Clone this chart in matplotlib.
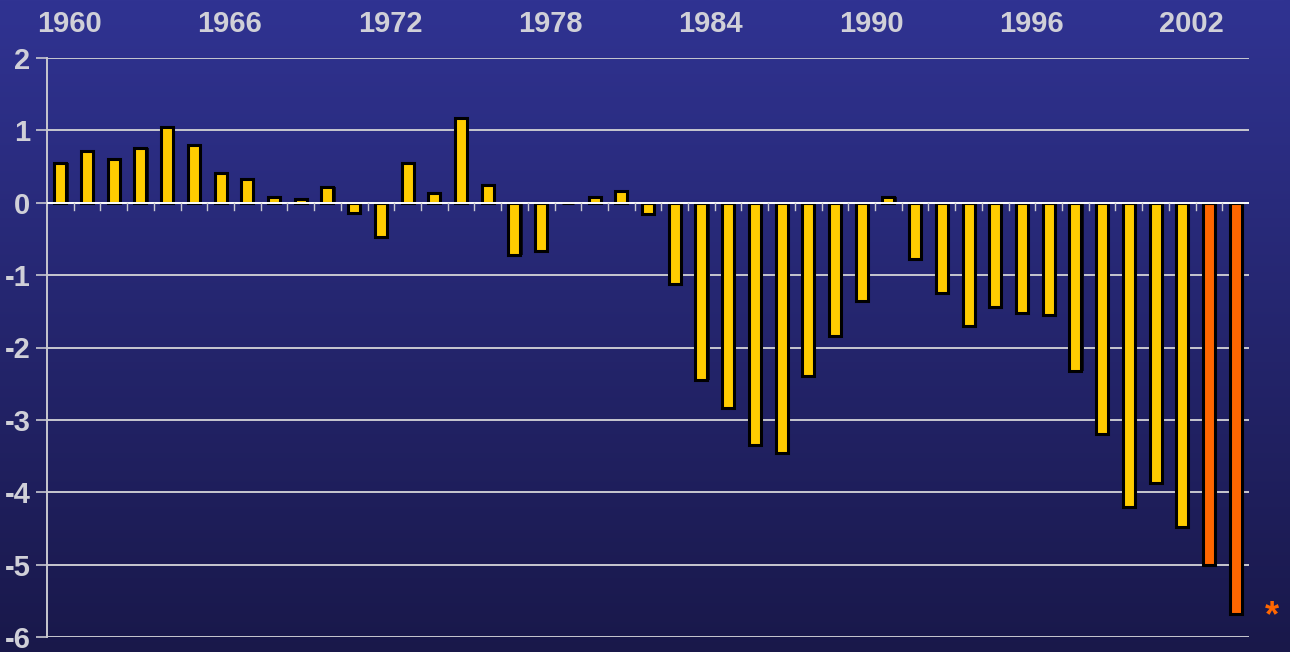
import numpy as np
import matplotlib
matplotlib.use('Agg')
import matplotlib.pyplot as plt

years = list(range(1960, 2005))
values = [0.55, 0.72, 0.61, 0.75, 1.05, 0.80, 0.41, 0.33, 0.08, 0.05,
          0.22, -0.14, -0.47, 0.55, 0.14, 1.17, 0.25, -0.72, -0.66, 0.0,
          0.08, 0.16, -0.16, -1.12, -2.45, -2.84, -3.35, -3.46, -2.39, -1.84,
          -1.36, 0.08, -0.78, -1.25, -1.70, -1.44, -1.53, -1.55, -2.33, -3.20,
          -4.21, -3.87, -4.48, -5.00, -5.68]
estimated = [2003, 2004]
label_years = [1960, 1966, 1972, 1978, 1984, 1990, 1996, 2002]

plt.rcParams['font.family'] = ['Liberation Sans', 'DejaVu Sans']
txt = '#d0d0d8'
grid = '#c8c8d0'

fig = plt.figure(figsize=(12.9, 6.52), dpi=100)

# gradient background
bg = fig.add_axes([0, 0, 1, 1], zorder=-10)
top = np.array([48, 51, 146]) / 255
bot = np.array([25, 24, 74]) / 255
t = np.linspace(0, 1, 256)[:, None]
grad = top[None, :] * (1 - t) + bot[None, :] * t
bg.imshow(grad[:, None, :], aspect='auto', extent=[0, 1, 0, 1])
bg.axis('off')

ax = fig.add_axes([47 / 1290, 1 - 637 / 652, 1202 / 1290, 579 / 652])
ax.patch.set_alpha(0)

x = np.arange(len(years))
colors = ['#ff6600' if y in estimated else '#ffcc00' for y in years]
# shadow
ax.bar(x + 0.08, values, width=0.45, color='#0a0a20', edgecolor='none',
       zorder=2)
ax.bar(x, values, width=0.45, color=colors, edgecolor='black', linewidth=2.2,
       zorder=3)

ax.set_xlim(-0.5, len(years) - 0.5)
ax.set_ylim(-6, 2)
ax.set_yticks(range(-6, 3))
ax.set_yticklabels([str(v) for v in range(-6, 3)], fontsize=21,
                   fontweight='bold', color=txt)
ax.tick_params(axis='y', length=8, color=grid, width=1.2, pad=4)
ax.set_xticks([])
for v in range(-6, 3):
    if v != 0:
        ax.axhline(v, color=grid, linewidth=1.4, zorder=1)
ax.axhline(0, color='white', linewidth=1.4, zorder=4)

# small ticks on the zero line at category boundaries
for b in np.arange(0.5, len(years) - 0.5, 1.0):
    ax.plot([b, b], [0, -0.1], color=grid, linewidth=1.0, zorder=4)

for s in ['top', 'right', 'bottom']:
    ax.spines[s].set_visible(False)
ax.spines['left'].set_color(grid)
ax.spines['left'].set_linewidth(1.4)

# year labels on top
for yr in label_years:
    i = years.index(yr)
    ax.text(i + 0.35, 2.36, str(yr), ha='center', va='baseline', fontsize=21,
            fontweight='bold', color=txt, clip_on=False)

ax.text(len(years) + 0.35, -5.72, '*', ha='center', va='center', fontsize=26,
        fontweight='bold', color='#ff6600', clip_on=False)

fig.savefig('out.png', dpi=100)
